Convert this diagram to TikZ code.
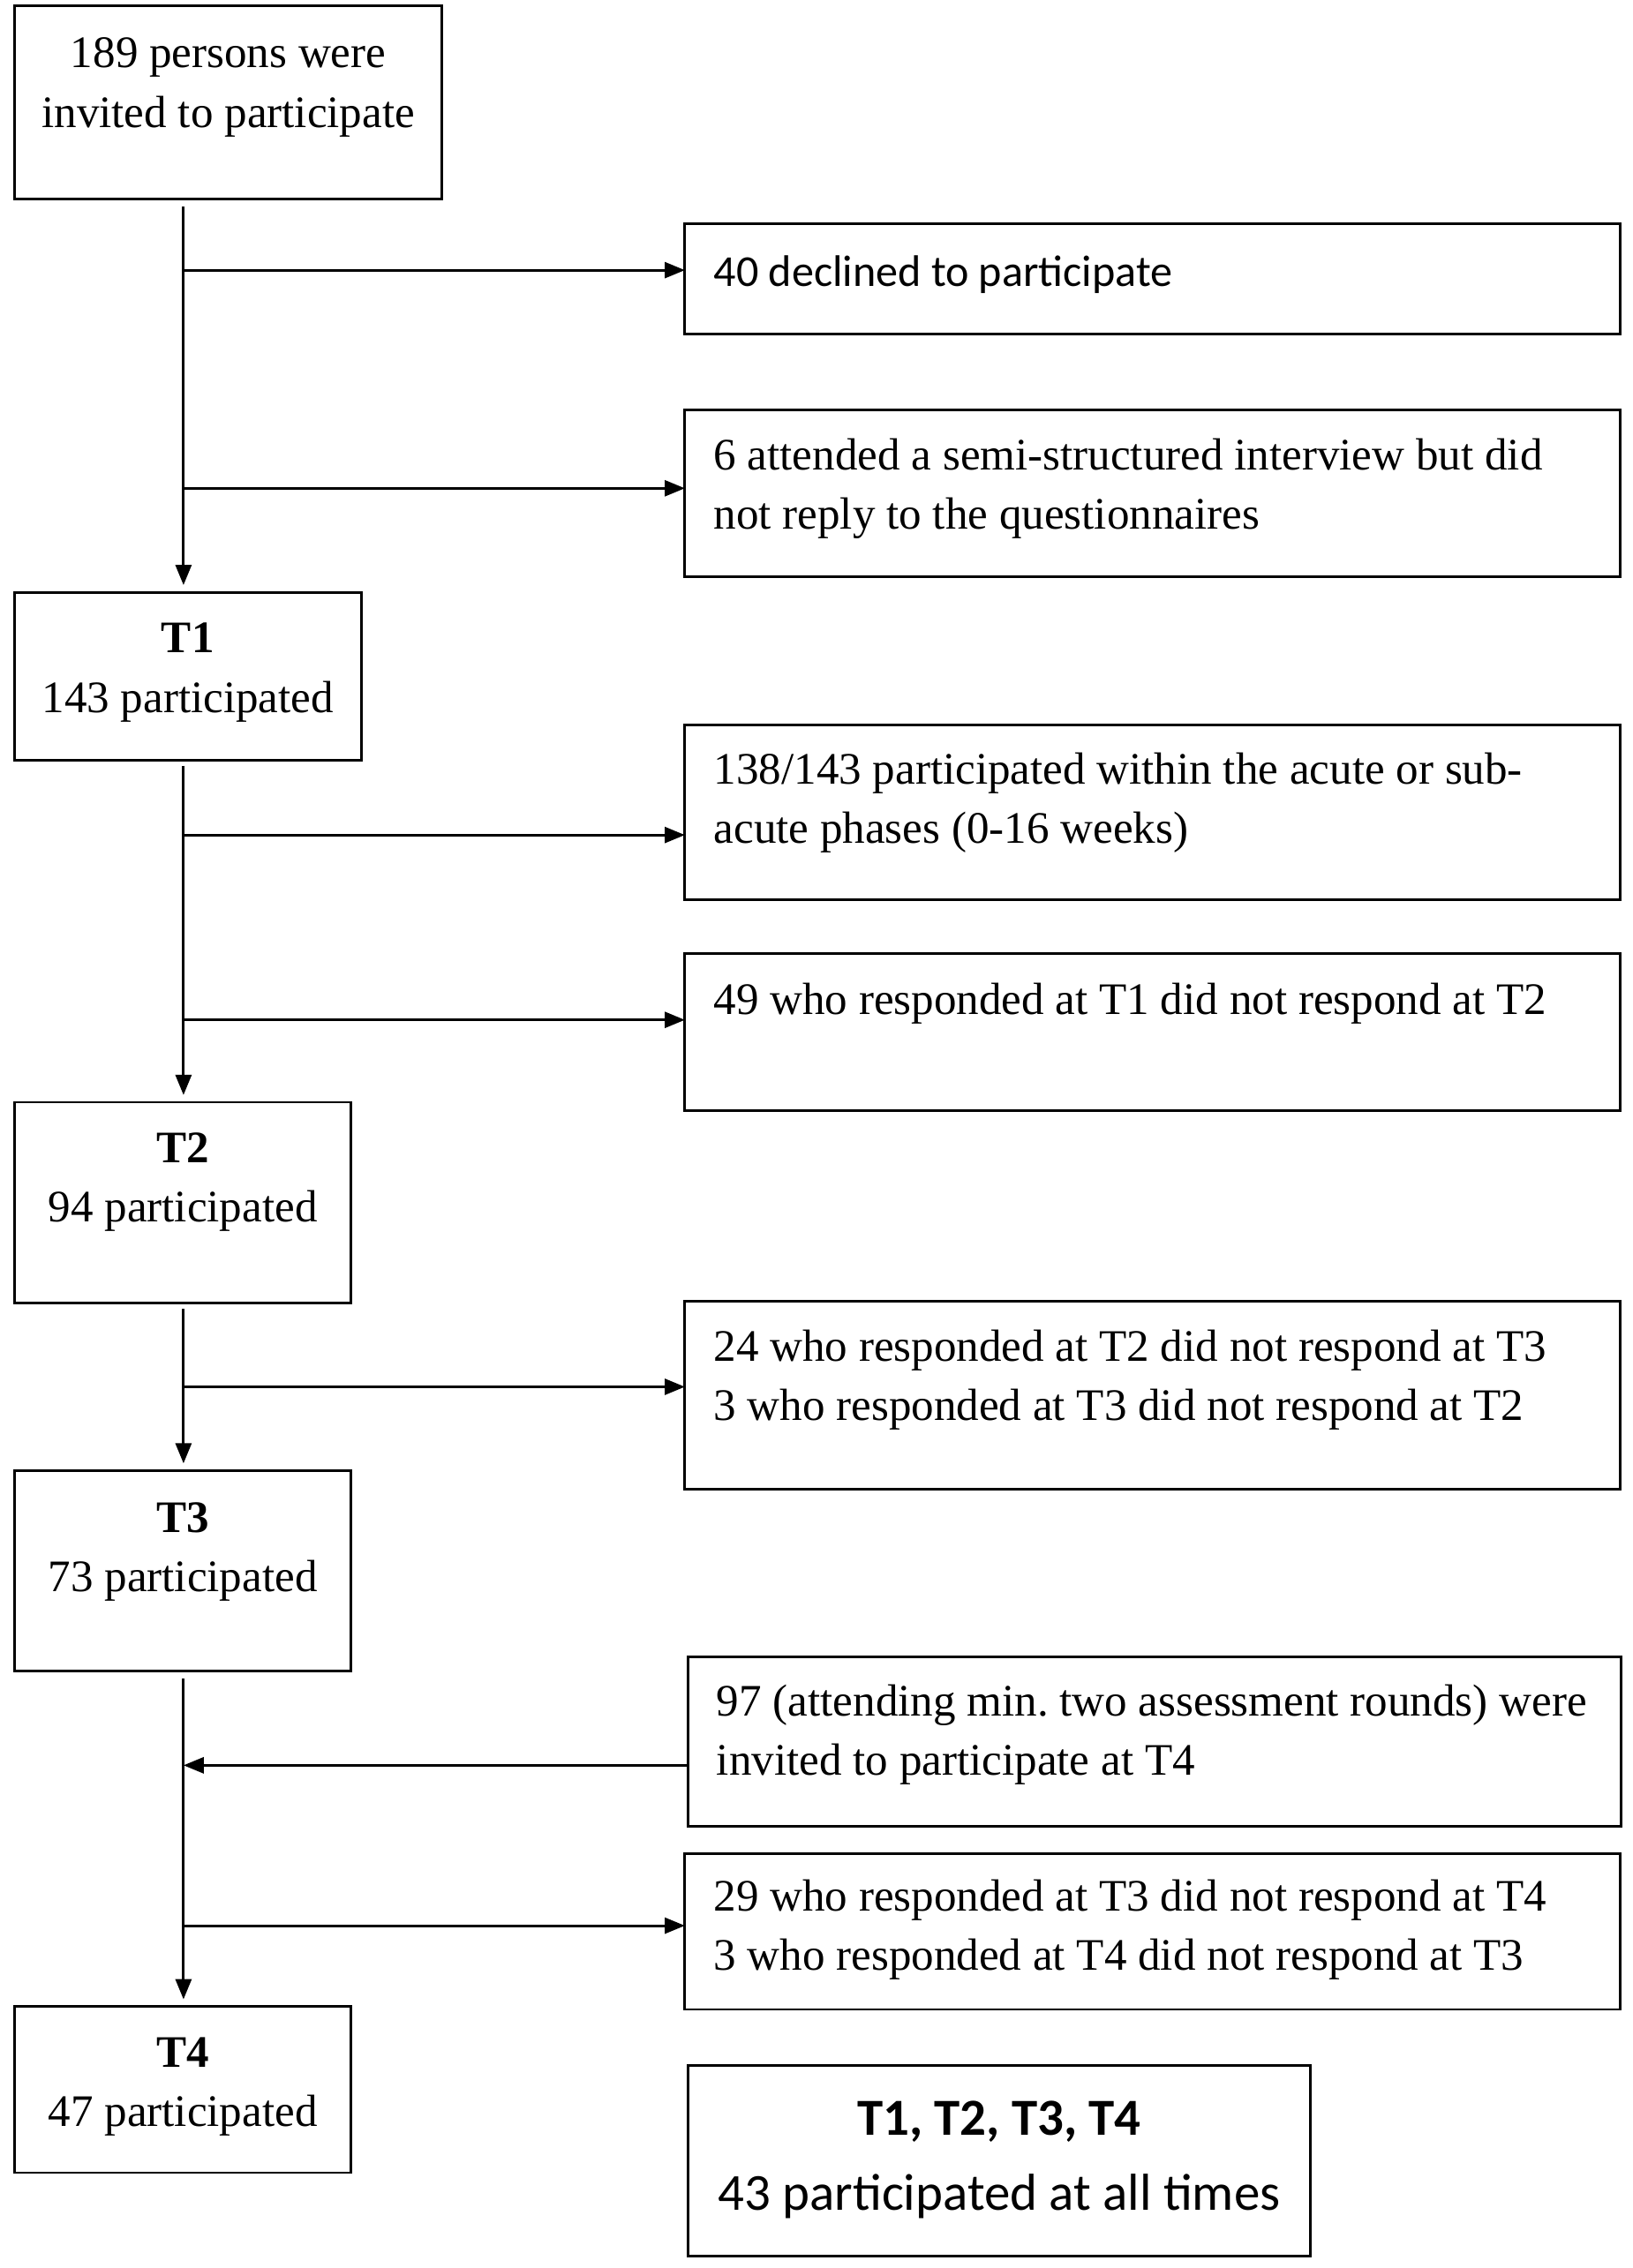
\documentclass[tikz,border=0pt]{standalone}
\usepackage{fontspec}
\setmainfont{Liberation Serif}
\newfontfamily\calfont{Carlito}
\usetikzlibrary{arrows.meta}
\newcommand\cbx[4]{\parbox[c][#2][t]{#1}{\centering\rule{0pt}{#3}#4}}
\newcommand\lbx[4]{\parbox[c][#2][t]{#1}{\raggedright\leftskip=10pt\rule{0pt}{#3}#4}}
\frenchspacing
\begin{document}
\begin{tikzpicture}[x=0.5pt,y=-0.5pt,
  box/.style={draw, line width=0.9pt, inner sep=0pt, outer sep=0pt},
  arr/.style={line width=0.9pt, -{Triangle[length=7pt,width=5.5pt]}},
  arrv/.style={arr, shorten >=2.5pt},
  ln/.style={line width=0.9pt},
  font=\fontsize{15.6}{20.5}\selectfont\frenchspacing]
\useasboundingbox (0,0) rectangle (1130,1570);
% left column
\node[box] (a)  at (158,71)    {\cbx{148pt}{67pt}{21.5pt}{189 persons were\\invited to participate}};
\node[box] (t1) at (130,468)   {\cbx{120pt}{58pt}{21pt}{\textbf{T1}\\143 participated}};
\node[box] (t2) at (126.5,832.5) {\cbx{116.5pt}{69.5pt}{21pt}{\textbf{T2}\\94 participated}};
\node[box] (t3) at (126.5,1087.5){\cbx{116.5pt}{69.5pt}{21.5pt}{\textbf{T3}\\73 participated}};
\node[box] (t4) at (126.5,1446.5){\cbx{116.5pt}{57.5pt}{21pt}{\textbf{T4}\\47 participated}};
% right column
\node[box] (d40) at (797.5,193)   {\lbx{323.5pt}{38pt}{21.5pt}{\calfont\fontsize{15.3}{20.5}\selectfont 40 declined to participate}};
\node[box] (s6)  at (797.5,341.5) {\lbx{323.5pt}{57.5pt}{20.5pt}{6 attended a semi-structured interview but did\\not reply to the questionnaires}};
\node[box] (p138) at (797.5,562.5){\lbx{323.5pt}{60.5pt}{20.5pt}{138/143 participated within the acute or sub-\\acute phases (0-16 weeks)}};
\node[box] (n49) at (797.5,714.5) {\lbx{323.5pt}{54.5pt}{21pt}{49 who responded at T1 did not respond at T2}};
\node[box] (r24) at (797.5,966)   {\lbx{323.5pt}{65pt}{20.5pt}{24 who responded at T2 did not respond at T3\\3 who responded at T3 did not respond at T2}};
\node[box] (i97) at (799,1205.5)  {\lbx{323pt}{58.5pt}{20.5pt}{97 (attending min. two assessment rounds) were\\invited to participate at T4}};
\node[box] (r29) at (797.5,1337)  {\lbx{323.5pt}{54pt}{20pt}{29 who responded at T3 did not respond at T4\\3 who responded at T4 did not respond at T3}};
\node[box] (all) at (691.5,1496)  {\parbox[c][66pt][t]{215.5pt}{\centering\calfont\fontsize{18}{26}\selectfont\rule{0pt}{24pt}\textbf{T1, T2, T3, T4}\\43 participated at all times}};
% trunk coordinates
\coordinate (k0) at (127,143);
\coordinate (b1) at (127,187);
\coordinate (b2) at (127,338);
\coordinate (k1) at (127,530);
\coordinate (b3) at (127,578);
\coordinate (b4) at (127,706);
\coordinate (k2) at (127,906);
\coordinate (b5) at (127,960);
\coordinate (k3) at (127,1162);
\coordinate (j4) at (127,1222);
\coordinate (b6) at (127,1333);
% trunk
\draw[arrv] (k0) -- (k0 |- t1.north);
\draw[arrv] (k1) -- (k1 |- t2.north);
\draw[arrv] (k2) -- (k2 |- t3.north);
\draw[arrv] (k3) -- (k3 |- t4.north);
% branches
\draw[arr] (b1) -- (b1 -| d40.west);
\draw[arr] (b2) -- (b2 -| s6.west);
\draw[arr] (b3) -- (b3 -| p138.west);
\draw[arr] (b4) -- (b4 -| n49.west);
\draw[arr] (b5) -- (b5 -| r24.west);
\draw[arr] (j4 -| i97.west) -- (j4);
\draw[arr] (b6) -- (b6 -| r29.west);
\end{tikzpicture}
\end{document}
